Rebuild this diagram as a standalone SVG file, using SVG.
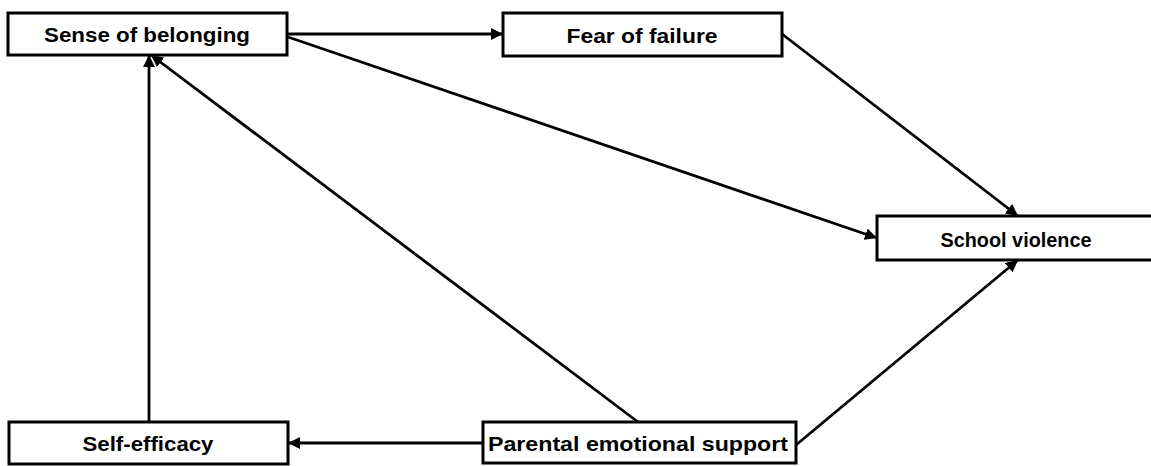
<svg xmlns="http://www.w3.org/2000/svg" width="1151" height="466" viewBox="0 0 1151 466">
<style>
.box{fill:#fff;stroke:#000;stroke-width:3}
.lbl{font-family:"Liberation Sans",Arial,sans-serif;font-weight:bold;font-size:21px;fill:#000;text-anchor:middle;dominant-baseline:central}
.c{stroke:#000;stroke-width:2.8;fill:none;marker-end:url(#ah)}
</style>
<defs>
<marker id="ah" markerUnits="userSpaceOnUse" markerWidth="14" markerHeight="12" refX="12" refY="6" orient="auto">
<path d="M0,0 L12,6 L0,12 Z" fill="#000"/>
</marker>
</defs>
<g id="connectors">
<line class="c" x1="288" y1="34" x2="503" y2="34"/>
<line class="c" x1="288" y1="37" x2="877" y2="238"/>
<line class="c" x1="782" y1="34" x2="1018" y2="216"/>
<line class="c" x1="796" y1="445" x2="1018" y2="260"/>
<line class="c" x1="638" y1="422" x2="151" y2="55"/>
<line class="c" x1="149" y1="422" x2="149" y2="55"/>
<line class="c" x1="483" y1="443" x2="288" y2="443"/>
</g>
<g id="sense">
<rect class="box" x="8" y="13" width="279" height="42"/>
<text class="lbl" x="147" y="34" textLength="206" lengthAdjust="spacingAndGlyphs">Sense of belonging</text>
</g>
<g id="fear">
<rect class="box" x="503" y="13" width="279" height="43"/>
<text class="lbl" x="642" y="35" textLength="151" lengthAdjust="spacingAndGlyphs">Fear of failure</text>
</g>
<g id="school">
<rect class="box" x="877" y="216" width="290" height="44"/>
<text class="lbl" x="1016" y="239" textLength="151" lengthAdjust="spacingAndGlyphs">School violence</text>
</g>
<g id="selfeff">
<rect class="box" x="9" y="422" width="279" height="42"/>
<text class="lbl" x="148" y="443" textLength="131" lengthAdjust="spacingAndGlyphs">Self-efficacy</text>
</g>
<g id="parental">
<rect class="box" x="483" y="422" width="313" height="41"/>
<text class="lbl" x="638" y="443" textLength="300" lengthAdjust="spacingAndGlyphs">Parental emotional support</text>
</g>
</svg>
